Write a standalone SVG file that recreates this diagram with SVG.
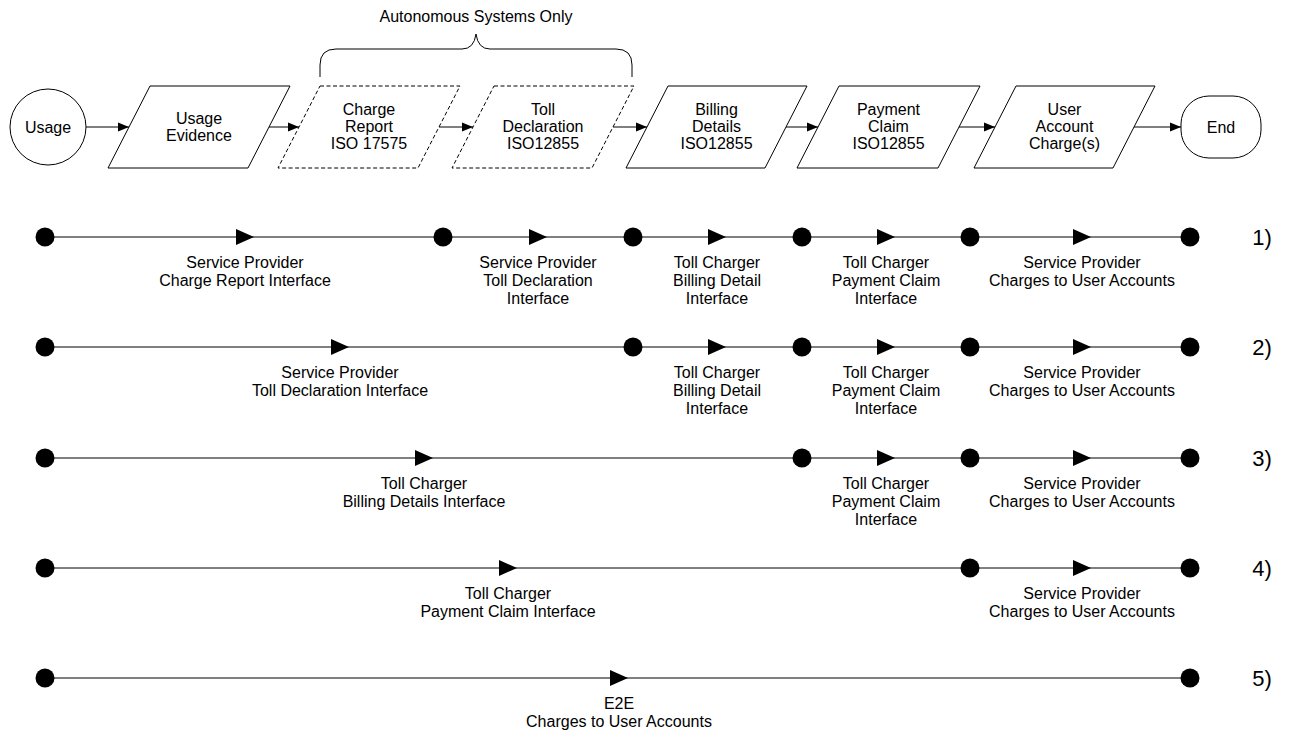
<svg xmlns="http://www.w3.org/2000/svg" xmlns:xlink="http://www.w3.org/1999/xlink" width="1290" height="735" viewBox="0 0 1290 735">
<style>
  .t { font-family: "Liberation Sans", Arial, sans-serif; font-size: 16px; fill: #000; text-anchor: middle; }
  .n { font-family: "Liberation Sans", Arial, sans-serif; font-size: 22px; fill: #000; text-anchor: middle; }
  .shape { fill: #fff; stroke: #000; stroke-width: 1; }
  .dash { fill: #fff; stroke: #000; stroke-width: 1; stroke-dasharray: 4 2.5; }
  .line { fill: none; stroke: #000; stroke-width: 1; }
  .dot { fill: #000; }
</style>
<defs>
  <marker id="arr" markerUnits="userSpaceOnUse" markerWidth="11" markerHeight="10" refX="11" refY="5" orient="auto">
    <path d="M0,0.5 L11,5 L0,9.5 z" fill="#000"/>
  </marker>
  <path id="tri" d="M-9,-8 L9,0 L-9,8 z" fill="#000"/>
</defs>
<rect width="1290" height="735" fill="#fff"/>

<!-- Brace -->
<g id="brace">
  <path class="line" d="M320,77 V65 Q320,49 336,49 H462 Q474,49 476,34 Q478,49 490,49 H616 Q632,49 632,65 V77"/>
  <text class="t" x="476" y="21.5">Autonomous Systems Only</text>
</g>

<!-- Top row nodes -->
<g id="usage">
  <circle class="shape" cx="48" cy="127" r="38"/>
  <text class="t" x="48" y="132.5">Usage</text>
</g>
<g id="usage-evidence">
  <polygon class="shape" points="150,86 290,86 248,168 108,168"/>
  <text class="t" x="199" y="123.5">Usage</text>
  <text class="t" x="199" y="140.5">Evidence</text>
</g>
<g id="charge-report">
  <polygon class="dash" points="320,86 460,86 418,168 278,168"/>
  <text class="t" x="369" y="114.5">Charge</text>
  <text class="t" x="369" y="131.5">Report</text>
  <text class="t" x="369" y="148.5">ISO 17575</text>
</g>
<g id="toll-declaration">
  <polygon class="dash" points="494,86 634,86 592,168 452,168"/>
  <text class="t" x="543" y="114.5">Toll</text>
  <text class="t" x="543" y="131.5">Declaration</text>
  <text class="t" x="543" y="148.5">ISO12855</text>
</g>
<g id="billing-details">
  <polygon class="shape" points="668,86 807,86 765,168 626,168"/>
  <text class="t" x="716.5" y="114.5">Billing</text>
  <text class="t" x="716.5" y="131.5">Details</text>
  <text class="t" x="716.5" y="148.5">ISO12855</text>
</g>
<g id="payment-claim">
  <polygon class="shape" points="839,86 980,86 938,168 797,168"/>
  <text class="t" x="888.5" y="114.5">Payment</text>
  <text class="t" x="888.5" y="131.5">Claim</text>
  <text class="t" x="888.5" y="148.5">ISO12855</text>
</g>
<g id="user-account-charges">
  <polygon class="shape" points="1016,86 1155,86 1113,168 974,168"/>
  <text class="t" x="1064.5" y="114.5">User</text>
  <text class="t" x="1064.5" y="131.5">Account</text>
  <text class="t" x="1064.5" y="148.5">Charge(s)</text>
</g>
<g id="end">
  <rect class="shape" x="1181" y="96" width="80" height="62" rx="28" ry="28"/>
  <text class="t" x="1221" y="132.5">End</text>
</g>

<!-- Timeline nodes (dots) -->
<g id="row1-nodes">
  <circle class="dot" cx="45" cy="237" r="9.5"/>
  <circle class="dot" cx="443" cy="237" r="9.5"/>
  <circle class="dot" cx="633" cy="237" r="9.5"/>
  <circle class="dot" cx="802" cy="237" r="9.5"/>
  <circle class="dot" cx="970" cy="237" r="9.5"/>
  <circle class="dot" cx="1190" cy="237" r="9.5"/>
  <text class="n" x="1262" y="245">1)</text>
</g>
<g id="row2-nodes">
  <circle class="dot" cx="45" cy="347" r="9.5"/>
  <circle class="dot" cx="633" cy="347" r="9.5"/>
  <circle class="dot" cx="802" cy="347" r="9.5"/>
  <circle class="dot" cx="970" cy="347" r="9.5"/>
  <circle class="dot" cx="1190" cy="347" r="9.5"/>
  <text class="n" x="1262" y="355">2)</text>
</g>
<g id="row3-nodes">
  <circle class="dot" cx="45" cy="458" r="9.5"/>
  <circle class="dot" cx="802" cy="458" r="9.5"/>
  <circle class="dot" cx="970" cy="458" r="9.5"/>
  <circle class="dot" cx="1190" cy="458" r="9.5"/>
  <text class="n" x="1262" y="466">3)</text>
</g>
<g id="row4-nodes">
  <circle class="dot" cx="45" cy="568" r="9.5"/>
  <circle class="dot" cx="970" cy="568" r="9.5"/>
  <circle class="dot" cx="1190" cy="568" r="9.5"/>
  <text class="n" x="1262" y="576">4)</text>
</g>
<g id="row5-nodes">
  <circle class="dot" cx="45" cy="678" r="9.5"/>
  <circle class="dot" cx="1190" cy="678" r="9.5"/>
  <text class="n" x="1262" y="686">5)</text>
</g>

<!-- Connectors -->
<g id="connectors">
  <!-- top flow -->
  <line class="line" x1="86" y1="127" x2="129" y2="127" marker-end="url(#arr)"/>
  <line class="line" x1="269" y1="127" x2="299" y2="127" marker-end="url(#arr)"/>
  <line class="line" x1="439" y1="127" x2="473" y2="127" marker-end="url(#arr)"/>
  <line class="line" x1="613" y1="127" x2="647" y2="127" marker-end="url(#arr)"/>
  <line class="line" x1="786" y1="127" x2="818" y2="127" marker-end="url(#arr)"/>
  <line class="line" x1="959" y1="127" x2="995" y2="127" marker-end="url(#arr)"/>
  <line class="line" x1="1134" y1="127" x2="1181" y2="127" marker-end="url(#arr)"/>

  <!-- row 1 -->
  <line class="line" x1="45" y1="237" x2="1190" y2="237"/>
  <use xlink:href="#tri" x="245" y="237"/>
  <use xlink:href="#tri" x="538" y="237"/>
  <use xlink:href="#tri" x="717" y="237"/>
  <use xlink:href="#tri" x="886" y="237"/>
  <use xlink:href="#tri" x="1082" y="237"/>
  <text class="t" x="245" y="267.5">Service Provider</text>
  <text class="t" x="245" y="285.5">Charge Report Interface</text>
  <text class="t" x="538" y="267.5">Service Provider</text>
  <text class="t" x="538" y="285.5">Toll Declaration</text>
  <text class="t" x="538" y="303.5">Interface</text>
  <text class="t" x="717" y="267.5">Toll Charger</text>
  <text class="t" x="717" y="285.5">Billing Detail</text>
  <text class="t" x="717" y="303.5">Interface</text>
  <text class="t" x="886" y="267.5">Toll Charger</text>
  <text class="t" x="886" y="285.5">Payment Claim</text>
  <text class="t" x="886" y="303.5">Interface</text>
  <text class="t" x="1082" y="267.5">Service Provider</text>
  <text class="t" x="1082" y="285.5">Charges to User Accounts</text>

  <!-- row 2 -->
  <line class="line" x1="45" y1="347" x2="1190" y2="347"/>
  <use xlink:href="#tri" x="340" y="347"/>
  <use xlink:href="#tri" x="717" y="347"/>
  <use xlink:href="#tri" x="886" y="347"/>
  <use xlink:href="#tri" x="1082" y="347"/>
  <text class="t" x="340" y="377.5">Service Provider</text>
  <text class="t" x="340" y="395.5">Toll Declaration Interface</text>
  <text class="t" x="717" y="377.5">Toll Charger</text>
  <text class="t" x="717" y="395.5">Billing Detail</text>
  <text class="t" x="717" y="413.5">Interface</text>
  <text class="t" x="886" y="377.5">Toll Charger</text>
  <text class="t" x="886" y="395.5">Payment Claim</text>
  <text class="t" x="886" y="413.5">Interface</text>
  <text class="t" x="1082" y="377.5">Service Provider</text>
  <text class="t" x="1082" y="395.5">Charges to User Accounts</text>

  <!-- row 3 -->
  <line class="line" x1="45" y1="458" x2="1190" y2="458"/>
  <use xlink:href="#tri" x="424" y="458"/>
  <use xlink:href="#tri" x="886" y="458"/>
  <use xlink:href="#tri" x="1082" y="458"/>
  <text class="t" x="424" y="488.5">Toll Charger</text>
  <text class="t" x="424" y="506.5">Billing Details Interface</text>
  <text class="t" x="886" y="488.5">Toll Charger</text>
  <text class="t" x="886" y="506.5">Payment Claim</text>
  <text class="t" x="886" y="524.5">Interface</text>
  <text class="t" x="1082" y="488.5">Service Provider</text>
  <text class="t" x="1082" y="506.5">Charges to User Accounts</text>

  <!-- row 4 -->
  <line class="line" x1="45" y1="568" x2="1190" y2="568"/>
  <use xlink:href="#tri" x="508" y="568"/>
  <use xlink:href="#tri" x="1082" y="568"/>
  <text class="t" x="508" y="598.5">Toll Charger</text>
  <text class="t" x="508" y="616.5">Payment Claim Interface</text>
  <text class="t" x="1082" y="598.5">Service Provider</text>
  <text class="t" x="1082" y="616.5">Charges to User Accounts</text>

  <!-- row 5 -->
  <line class="line" x1="45" y1="678" x2="1190" y2="678"/>
  <use xlink:href="#tri" x="619" y="678"/>
  <text class="t" x="619" y="708.5">E2E</text>
  <text class="t" x="619" y="726.5">Charges to User Accounts</text>
</g>
</svg>
